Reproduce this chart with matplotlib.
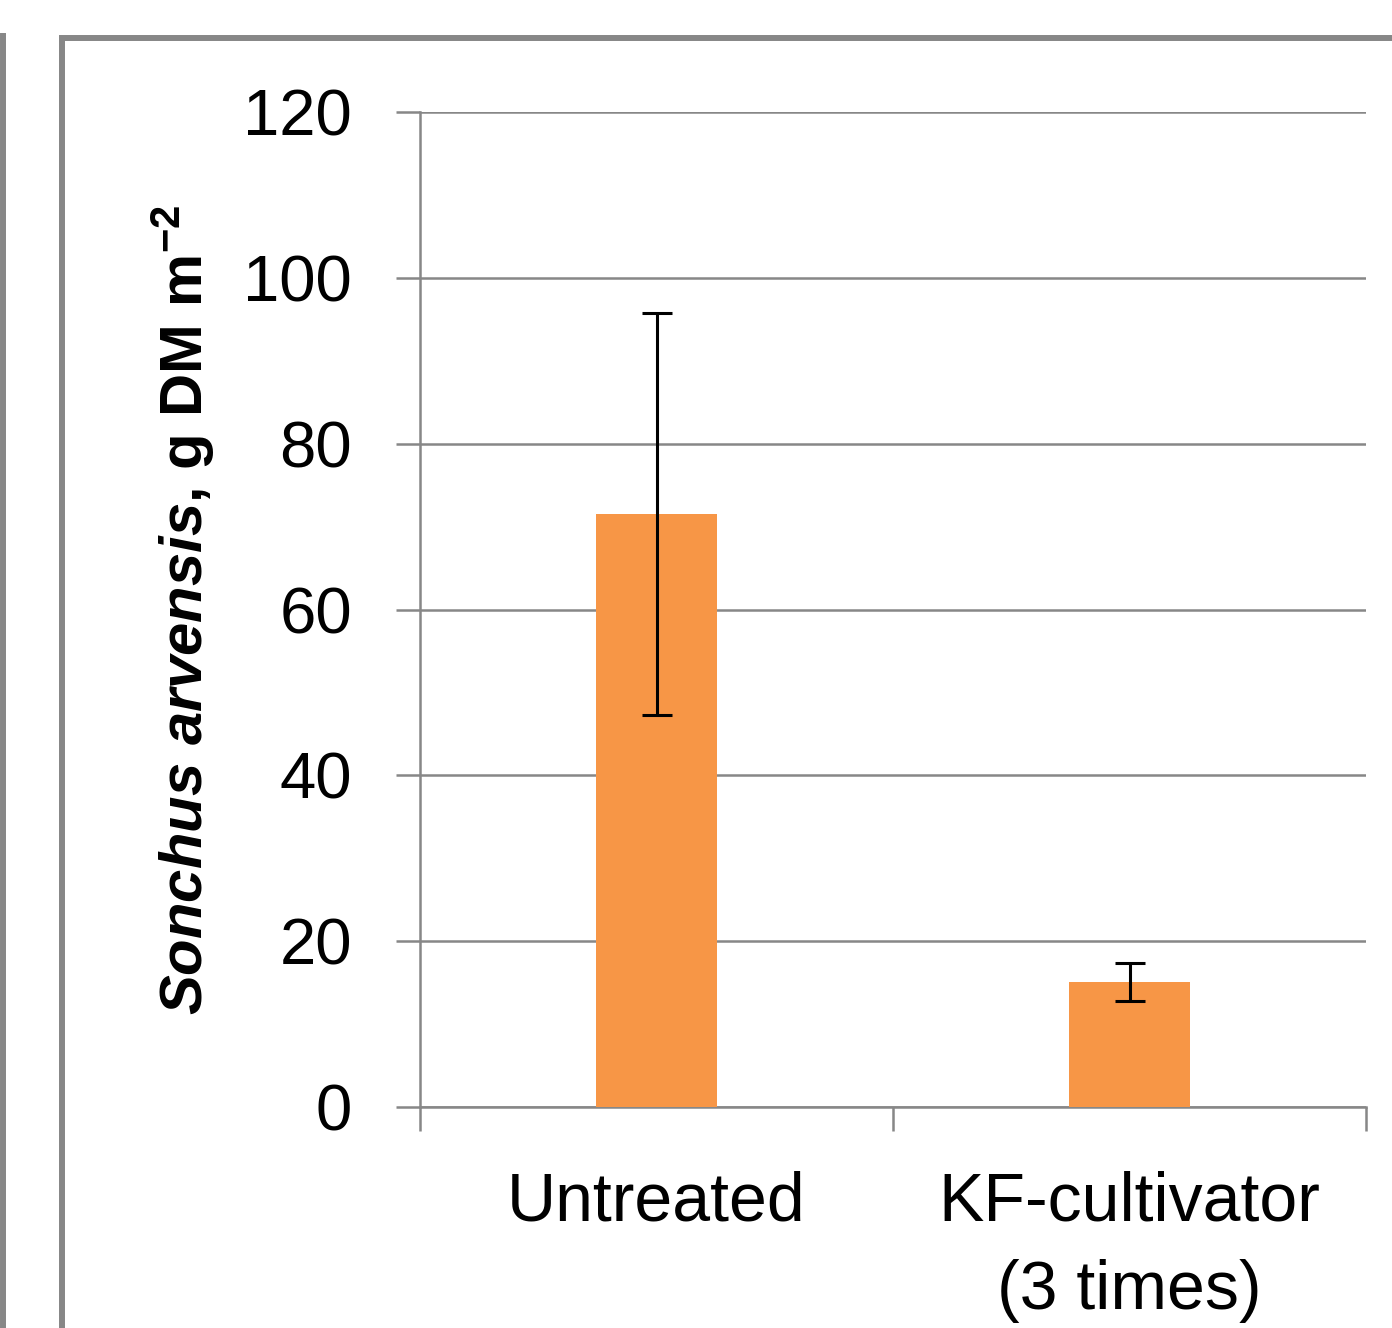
import numpy as np
import matplotlib.pyplot as plt
from matplotlib.patches import Rectangle
from matplotlib.lines import Line2D

plt.rcParams['font.family'] = ['Liberation Sans', 'DejaVu Sans']
plt.rcParams['mathtext.fontset'] = 'custom'
plt.rcParams['mathtext.rm'] = 'Liberation Sans:bold'
plt.rcParams['mathtext.it'] = 'Liberation Sans:italic:bold'
plt.rcParams['mathtext.bf'] = 'Liberation Sans:bold'

treatments = ["Untreated", "KF-cultivator\n(3 times)"]
biomass = [71.5, 15.1]
biomass_err = [24.2, 2.3]
y_ticks = [0, 20, 40, 60, 80, 100, 120]

bar_color = "#F79646"
gray = "#878787"

W, H = 1392, 1328
fig = plt.figure(figsize=(W / 100, H / 100), dpi=100)

# outer chart frame (partly cut off by the image border)
fig.add_artist(Rectangle((62 / W, -0.1), 2.0, 1 - 38 / H + 0.1, transform=fig.transFigure,
                         fill=False, edgecolor=gray, linewidth=4.3, clip_on=False))
fig.add_artist(Line2D([3 / W, 3 / W], [0, 1 - 36 / H], transform=fig.transFigure,
                      color=gray, linewidth=4.3))

ax = fig.add_axes([420 / W, 1 - 1107 / H, (1366 - 420) / W, (1107 - 112) / H])

x = np.arange(len(treatments))
ax.bar(x, biomass, width=0.256, color=bar_color, zorder=3)
ax.errorbar(x, biomass, yerr=biomass_err, fmt="none", ecolor="black",
            elinewidth=2.2, capsize=11, capthick=2.2, zorder=4)

ax.set_xlim(-0.5, len(treatments) - 0.5)
ax.set_ylim(0, 120)
ax.set_yticks(y_ticks)
ax.set_yticklabels([str(v) for v in y_ticks], fontsize=47)
ax.yaxis.grid(True, color=gray, linewidth=1.8, zorder=0)
ax.set_axisbelow(True)

ax.set_xticks(x)
ax.set_xticklabels(treatments, fontsize=49, linespacing=1.48)
ax.set_xticks(np.arange(len(treatments) + 1) - 0.5, minor=True)
ax.tick_params(axis="x", which="major", length=0, pad=46)
ax.tick_params(axis="x", which="minor", length=17, width=1.8, color=gray, direction="out")
ax.tick_params(axis="y", length=17, width=1.8, color=gray, direction="out", pad=32)

for side in ["top", "right"]:
    ax.spines[side].set_visible(False)
for side in ["left", "bottom"]:
    ax.spines[side].set_color(gray)
    ax.spines[side].set_linewidth(1.8)

ax.set_ylabel(r"$\it{Sonchus\ arvensis}$, g DM m$^{-2}$", fontsize=43,
              fontweight="bold", labelpad=19)

fig.savefig("out.png", dpi=100)
